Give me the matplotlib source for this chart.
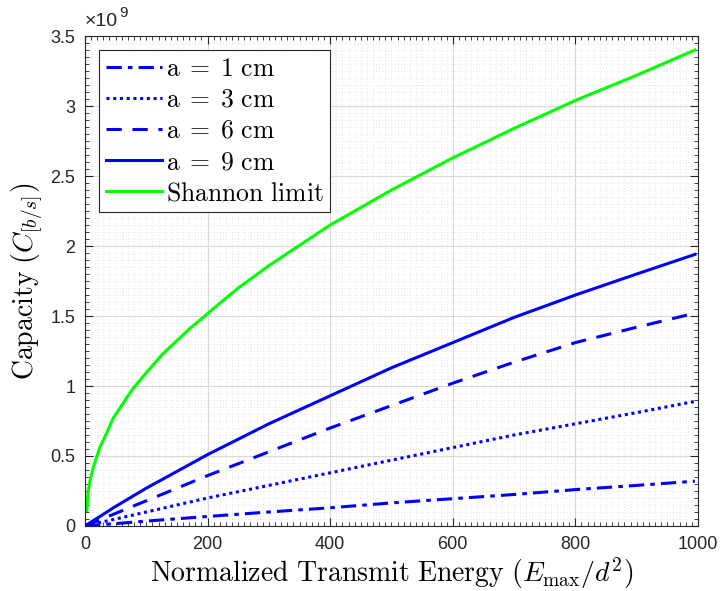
import numpy as np
import matplotlib
matplotlib.use("Agg")
import matplotlib.pyplot as plt
from matplotlib.ticker import MultipleLocator, FuncFormatter

plt.rcParams['mathtext.fontset'] = 'cm'
plt.rcParams['font.family'] = ['Liberation Sans', 'DejaVu Sans']

# energy axis and capacities (capacity in units of 1e9 b/s)
energy = [0, 25, 50, 100, 200, 300, 400, 500, 600, 700, 800, 900, 995]
cap_a1 = [0, 0.009, 0.017, 0.035, 0.068, 0.10, 0.13, 0.165, 0.195, 0.225, 0.26, 0.29, 0.32]
cap_a3 = [0, 0.025, 0.05, 0.10, 0.20, 0.29, 0.38, 0.47, 0.56, 0.65, 0.73, 0.81, 0.89]
cap_a6 = [0, 0.045, 0.09, 0.18, 0.36, 0.53, 0.70, 0.86, 1.02, 1.17, 1.31, 1.42, 1.52]
cap_a9 = [0, 0.07, 0.14, 0.27, 0.51, 0.73, 0.93, 1.13, 1.31, 1.49, 1.65, 1.80, 1.94]

energy_sh = [3, 5, 8, 13, 24, 36, 46, 78, 101, 127, 171, 217, 250, 300,
             400, 500, 600, 700, 800, 900, 995]
cap_shannon = [0.11, 0.24, 0.32, 0.41, 0.56, 0.67, 0.77, 0.98, 1.10, 1.23, 1.41, 1.58, 1.70, 1.86,
               2.15, 2.40, 2.63, 2.84, 3.04, 3.22, 3.40]

labels = [r'$\mathrm{a}\;=\;1\ \mathrm{cm}$', r'$\mathrm{a}\;=\;3\ \mathrm{cm}$',
          r'$\mathrm{a}\;=\;6\ \mathrm{cm}$', r'$\mathrm{a}\;=\;9\ \mathrm{cm}$',
          r'$\mathrm{Shannon\ limit}$']

fig = plt.figure(figsize=(7.22, 5.91), dpi=100)
ax = fig.add_axes([0.1177, 0.110, 0.849, 0.829])

blue = '#0000ff'
ax.plot(energy, cap_a1, color=blue, lw=2.2, ls=(0, (5, 2, 1.5, 2)), label=labels[0])
ax.plot(energy, cap_a3, color=blue, lw=2.2, ls=(0, (1, 1.2)), label=labels[1])
ax.plot(energy, cap_a6, color=blue, lw=2.2, ls=(0, (5, 3.5)), label=labels[2])
ax.plot(energy, cap_a9, color=blue, lw=2.2, ls='-', label=labels[3])
ax.plot(energy_sh, cap_shannon, color='#00ff00', lw=2.2, ls='-', label=labels[4])

ax.set_xlim(0, 1000)
ax.set_ylim(0, 3.5)
ax.xaxis.set_major_locator(MultipleLocator(200))
ax.xaxis.set_minor_locator(MultipleLocator(10))
ax.yaxis.set_major_locator(MultipleLocator(0.5))
ax.yaxis.set_minor_locator(MultipleLocator(0.05))
ax.yaxis.set_major_formatter(FuncFormatter(lambda v, p: ('%g' % v)))

ax.tick_params(which='both', direction='in', top=True, right=True,
               labelsize=13, colors='#262626', pad=7)
ax.tick_params(which='major', length=6)
ax.tick_params(which='minor', length=3)
for s in ax.spines.values():
    s.set_color('#262626')
    s.set_linewidth(0.8)

ax.grid(which='major', color='#d9d9d9', lw=0.8, ls='-')
ax.grid(which='minor', color='#cfcfcf', lw=0.5, ls=(0, (1, 3.5)))
ax.set_axisbelow(True)

ax.text(0, 1.012, '\u00d710', transform=ax.transAxes, fontsize=14,
        color='#262626', ha='left', va='bottom')
ax.text(0.056, 1.033, '9', transform=ax.transAxes, fontsize=11,
        color='#262626', ha='left', va='bottom')

ax.set_xlabel(r'$\mathrm{Normalized\ Transmit\ Energy}\ (E_{\max}/d^2)$', fontsize=20, labelpad=2)
ax.set_ylabel(r'$\mathrm{Capacity}\ (C_{[b/s]})$', fontsize=20, labelpad=4)

leg = ax.legend(loc='upper left', fontsize=18.5, handlelength=2.2, handletextpad=0.15,
                borderpad=0.25, labelspacing=0.28, fancybox=False, framealpha=1,
                borderaxespad=0.55)
leg.get_frame().set_edgecolor('#262626')
leg.get_frame().set_linewidth(0.8)

fig.savefig('out.png', dpi=100)
